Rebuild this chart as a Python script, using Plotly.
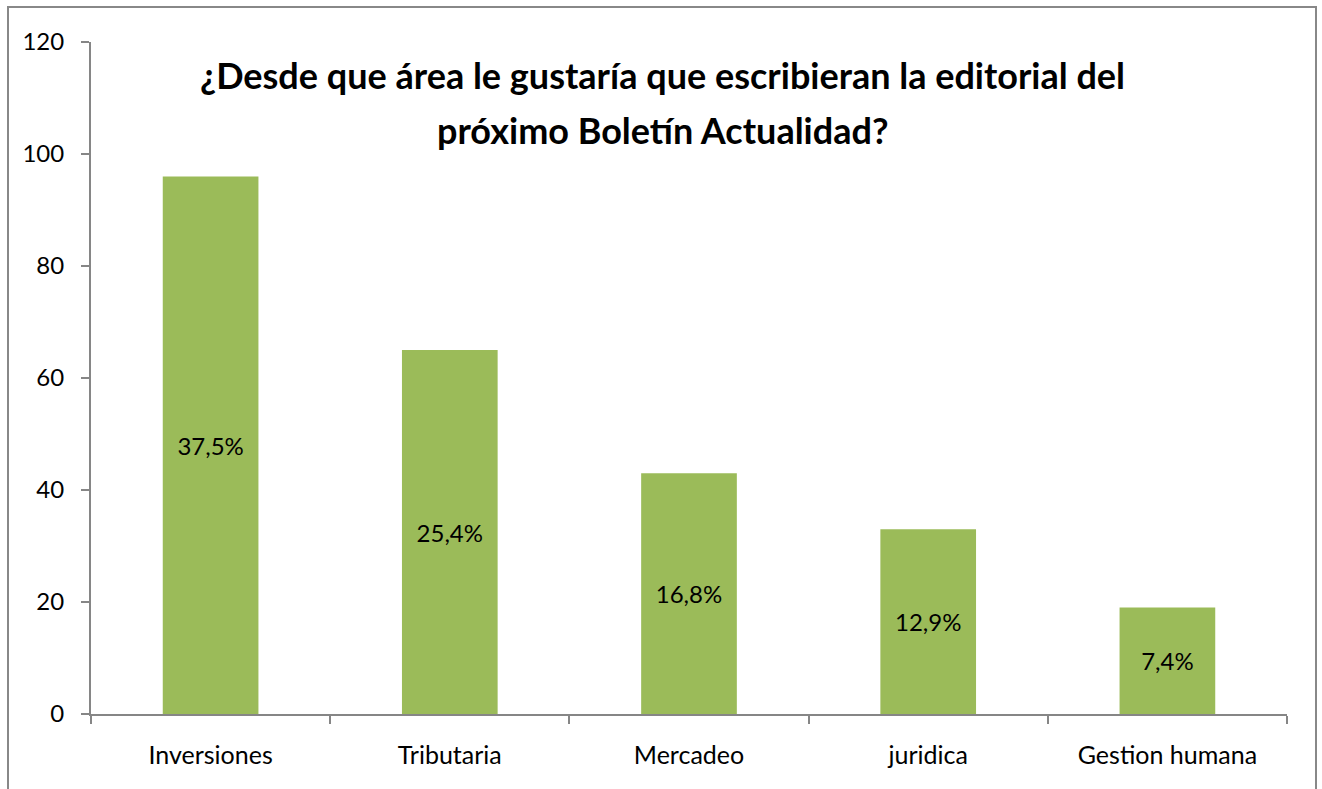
import plotly.graph_objects as go

categories = ["Inversiones", "Tributaria", "Mercadeo", "juridica", "Gestion humana"]
values = [96, 65, 43, 33, 19]
pct_labels = ["37,5%", "25,4%", "16,8%", "12,9%", "7,4%"]
y_ticks = [0, 20, 40, 60, 80, 100, 120]
title_lines = ["¿Desde que área le gustaría que escribieran la editorial del",
               "próximo Boletín Actualidad?"]

FONT = "Lato"
W, H = 1322, 789
L, R, T, B = 91, 35, 42, 75
pw, ph = W - L - R, H - T - B

def px_to_paper_x(px):
    return (px - L) / pw

def px_to_paper_y(py):
    return (H - B - py) / ph

fig = go.Figure()
fig.add_trace(go.Bar(
    x=categories, y=values, text=pct_labels,
    textposition="inside", insidetextanchor="middle",
    textfont=dict(family=FONT, size=24, color="black"),
    marker=dict(color="#9BBB59", line=dict(width=0)),
    hoverinfo="x+y",
))

fig.update_layout(
    width=W, height=H,
    margin=dict(l=L, r=R, t=T, b=B),
    paper_bgcolor="white", plot_bgcolor="white",
    bargap=0.6, showlegend=False,
    font=dict(family=FONT, color="black"),
)
fig.update_xaxes(
    showline=True, linecolor="#868686", linewidth=2,
    ticks="outside", tickson="boundaries", ticklen=8, tickcolor="#868686", tickwidth=2,
    tickfont=dict(family=FONT, size=25, color="black"),
    ticklabelstandoff=18, showgrid=False, zeroline=False,
)
fig.update_yaxes(
    range=[0, 120], tickvals=y_ticks,
    showline=True, linecolor="#868686", linewidth=2,
    ticks="outside", ticklen=8, tickcolor="#868686", tickwidth=2,
    tickfont=dict(family=FONT, size=24, color="black"),
    ticklabelstandoff=12, showgrid=False, zeroline=False,
)

for line, ypx in zip(title_lines, [75, 130]):
    fig.add_annotation(
        text="<b>" + line + "</b>", xref="paper", yref="paper",
        x=px_to_paper_x(662), y=px_to_paper_y(ypx), xanchor="center", yanchor="middle",
        showarrow=False, font=dict(family=FONT, size=36, color="black"),
    )

fig.add_shape(
    type="rect", xref="paper", yref="paper",
    x0=px_to_paper_x(8), x1=px_to_paper_x(1316),
    y0=px_to_paper_y(800), y1=px_to_paper_y(7),
    line=dict(color="#888888", width=2), fillcolor="rgba(0,0,0,0)", layer="below",
)

fig.write_html("out.html")
